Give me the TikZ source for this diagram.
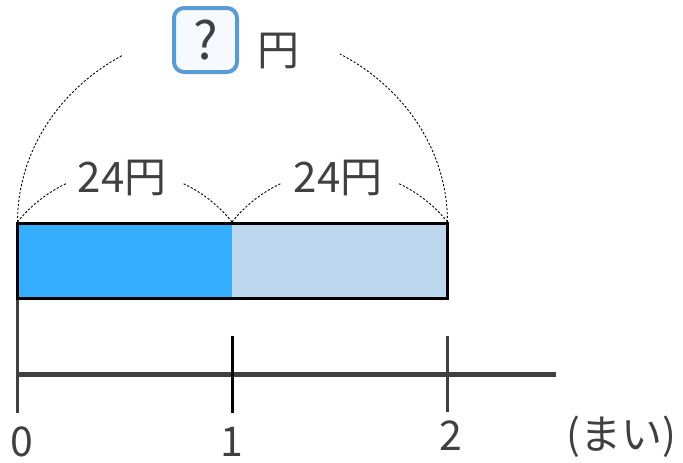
\documentclass[tikz,border=0pt]{standalone}
\usepackage{fontspec}
\setmainfont{Noto Sans CJK JP}
\definecolor{barblue}{HTML}{35AEFF}
\definecolor{barlight}{HTML}{BDD7EE}
\definecolor{axisgray}{HTML}{404040}
\definecolor{txtgray}{HTML}{404040}
\definecolor{qblue}{HTML}{5B9BD5}
\definecolor{qfill}{HTML}{F6FAFE}
\begin{document}
\begin{tikzpicture}[x=1pt,y=1pt,
  txt/.style={text=txtgray, inner sep=0pt, font=\fontsize{41}{48}\selectfont},
  bigtxt/.style={text=txtgray, inner sep=0pt, font=\fontsize{42}{50}\selectfont},
  bracket/.style={draw=black, line width=0.9pt, dash pattern=on 2.2pt off 1.8pt},
  axisline/.style={draw=axisgray, line width=5pt},
  tickline/.style={line width=3pt},
  qbox/.style={draw=qblue, line width=4pt, fill=qfill, rounded corners=10pt,
    minimum width=63pt, minimum height=64pt, inner sep=0pt, text=txtgray,
    font=\fontsize{52}{60}\selectfont},
]
\useasboundingbox (0,0) rectangle (683,-463);

% bar
\coordinate (p0) at (17.5,-223.5);
\coordinate (p1) at (232,-223.5);
\coordinate (p2) at (447.5,-223.5);
\coordinate (q0) at (17.5,-298.5);
\coordinate (q1) at (232,-298.5);
\coordinate (q2) at (447.5,-298.5);
\fill[barblue] (p0) rectangle (q1);
\fill[barlight] (p1) rectangle (q2);
\draw[line width=3pt] (p0) rectangle (q2);

% axis
\coordinate (a0) at (17,-374);
\coordinate (aend) at (556,-374);
\draw[axisgray, tickline] (17,-300) -- (17,-413);
\draw[axisline] (a0) -- (aend);
\draw[black, tickline] (232,-336) -- (232,-413);
\draw[axisgray, tickline] (447,-336) -- (447,-412);

% brackets (small)
\draw[bracket] (17.5,-222) arc[start angle=141.3, end angle=115, radius=137.5];
\draw[bracket] (232,-222) arc[start angle=38.7, end angle=65, radius=137.5];
\draw[bracket] (232,-222) arc[start angle=141.3, end angle=115, radius=137.5];
\draw[bracket] (447.5,-222) arc[start angle=38.7, end angle=65, radius=137.5];
% bracket (large)
\draw[bracket] (17.5,-222) arc[start angle=180, end angle=121, x radius=215, y radius=194];
\draw[bracket] (447.5,-222) arc[start angle=0, end angle=60, x radius=215, y radius=194];

% labels
\node[bigtxt] (l1) at (122,-178) {24円};
\node[bigtxt] (l2) at (338,-178) {24円};
\node[qbox] (q) at (205.5,-40) {?};
\node[bigtxt] (yen) at (278,-51) {円};

\node[txt] (n0) at (22,-442) {0};
\node[txt] (n1) at (232,-442) {1};
\node[txt] (n2) at (451,-436) {2};
\node[txt] (unit) at (621,-437) {(まい)};
\end{tikzpicture}
\end{document}
